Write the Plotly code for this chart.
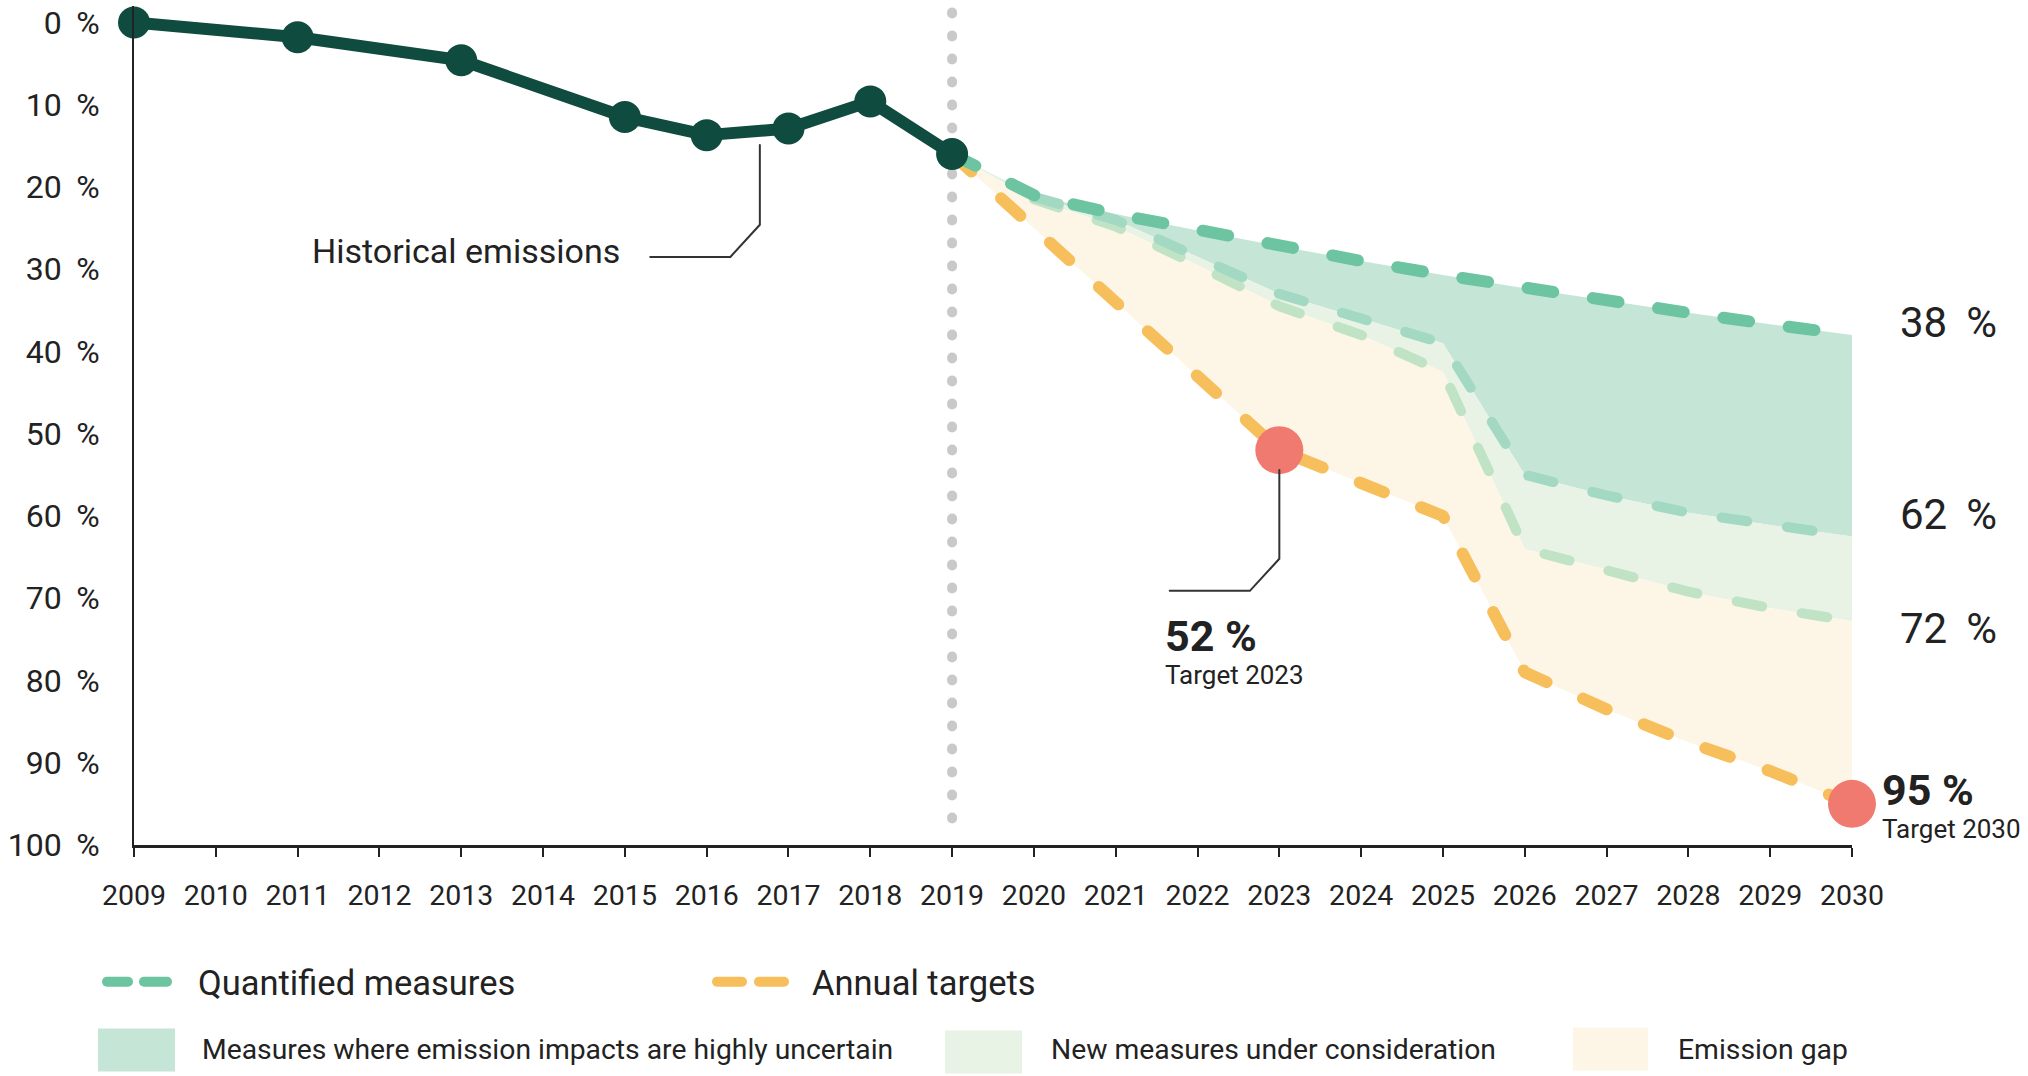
import plotly.graph_objects as go

# ---------------- data ----------------
hist_years = [2009, 2011, 2013, 2015, 2016, 2017, 2018, 2019]
hist_values = [0, 1.8, 4.6, 11.5, 13.7, 12.9, 9.6, 16.0]

proj_years = [2019, 2020, 2021, 2022, 2023, 2024, 2025, 2026, 2027, 2028, 2029, 2030]
quantified = [16, 21, 23.3, 25.3, 27.2, 29, 30.7, 32.3, 33.8, 35.3, 36.7, 38]
uncertain_lower = [16, 21.2, 24, 28.5, 33, 36, 39, 55, 57.5, 59.6, 61.1, 62.5]
new_measures_lower = [16, 21.5, 24.8, 29.5, 34.5, 38, 42.5, 64, 66.5, 69.2, 71.2, 72.8]
annual_targets = [16, 25, 34, 43, 52, 56, 60, 79, 83.5, 87.5, 91, 95]

target_years = [2023, 2030]
target_values = [52, 95]
target_labels = ["52 %", "95 %"]
target_subtitles = ["Target 2023", "Target 2030"]

SP = "\u00a0\u2009"  # slightly wider gap before %, as in the original typeface
y_tickvals = [0, 10, 20, 30, 40, 50, 60, 70, 80, 90, 100]
y_ticktext = [f"{v}{SP}%" for v in y_tickvals]
x_tickvals = list(range(2009, 2031))

end_labels = [f"38{SP}%", f"62{SP}%", f"72{SP}%"]
end_label_y = [36.5, 59.8, 73.7]

legend_lines = ["Quantified measures", "Annual targets"]
legend_areas = ["Measures where emission impacts are highly uncertain",
                "New measures under consideration", "Emission gap"]

# ---------------- styles ----------------
FONT = "Roboto, 'Open Sans', sans-serif"
C_HIST = "#0f4b3e"
C_QUANT = "#6cc4a0"
C_UNC = "#a3d8c3"
C_NEW = "#c0e3c6"
C_TARGET = "#f7bf5b"
C_RED = "#f07a70"
F_UNC = "#c5e6d7"
F_NEW = "#e8f3e6"
F_GAP = "#fdf6e6"
TXT = "#222222"

W, H = 2028, 1076
L, R, T, B = 134, 176, 4, 231
PW, PH = W - L - R, H - T - B


def px_x(p):
    return (p - L) / PW


def px_y(p):
    return (T + PH - p) / PH


fig = go.Figure()

# fills (no lines)
fig.add_trace(go.Scatter(x=proj_years, y=quantified, mode="lines", line=dict(width=0),
                         hoverinfo="skip", showlegend=False))
fig.add_trace(go.Scatter(x=proj_years, y=uncertain_lower, mode="lines", line=dict(width=0),
                         fill="tonexty", fillcolor=F_UNC, hoverinfo="skip", showlegend=False))
fig.add_trace(go.Scatter(x=proj_years, y=new_measures_lower, mode="lines", line=dict(width=0),
                         fill="tonexty", fillcolor=F_NEW, hoverinfo="skip", showlegend=False))
fig.add_trace(go.Scatter(x=proj_years, y=annual_targets, mode="lines", line=dict(width=0),
                         fill="tonexty", fillcolor=F_GAP, hoverinfo="skip", showlegend=False))

# dotted vertical line at 2019
fig.add_trace(go.Scatter(x=[2019, 2019], y=[-1.2, 99], mode="lines",
                         line=dict(color="#c9c9c9", width=10, dash="1px,22px"),
                         hoverinfo="skip", showlegend=False))

# dashed projection lines
fig.add_trace(go.Scatter(x=proj_years[1:], y=new_measures_lower[1:], mode="lines",
                         line=dict(color=C_NEW, width=10, dash="26px,40px"),
                         showlegend=False))
fig.add_trace(go.Scatter(x=proj_years[1:], y=uncertain_lower[1:], mode="lines",
                         line=dict(color=C_UNC, width=10, dash="26px,40px"),
                         showlegend=False))
fig.add_trace(go.Scatter(x=proj_years, y=annual_targets, mode="lines",
                         line=dict(color=C_TARGET, width=12, dash="26px,40px"),
                         showlegend=False))
fig.add_trace(go.Scatter(x=proj_years, y=quantified, mode="lines",
                         line=dict(color=C_QUANT, width=12, dash="26px,40px"),
                         showlegend=False))

# historical emissions
fig.add_trace(go.Scatter(x=hist_years, y=hist_values, mode="lines+markers",
                         line=dict(color=C_HIST, width=12),
                         marker=dict(color=C_HIST, size=32),
                         cliponaxis=False, showlegend=False))

# target dots
fig.add_trace(go.Scatter(x=target_years, y=target_values, mode="markers",
                         marker=dict(color=C_RED, size=48),
                         cliponaxis=False, showlegend=False))

shapes = []
annotations = []

# leader lines
shapes.append(dict(type="path", xref="x", yref="y",
                   path="M 2016.65,14.9 L 2016.65,24.6 L 2016.29,28.5 L 2015.31,28.5",
                   line=dict(color="#333333", width=2)))
shapes.append(dict(type="path", xref="x", yref="y",
                   path="M 2023,54.4 L 2023,65.2 L 2022.64,69.1 L 2021.66,69.1",
                   line=dict(color="#333333", width=2)))

annotations.append(dict(x=2014.97, y=27.8, xref="x", yref="y", text="Historical emissions",
                        showarrow=False, xanchor="right", yanchor="middle",
                        font=dict(size=34, color=TXT, family=FONT)))


def target_text(lab, sub):
    return (f"<span style='font-size:43px'><b>{lab}</b></span><br>"
            f"<span style='font-size:26px'>{sub}</span>")


# target labels (one text block each: value + subtitle)
annotations.append(dict(x=2021.58, y=76.4, xref="x", yref="y",
                        text=target_text(target_labels[0], target_subtitles[0]),
                        showarrow=False, xanchor="left", yanchor="middle", align="left",
                        font=dict(size=25, color=TXT, family=FONT)))
annotations.append(dict(x=px_x(1880), y=95.1, xref="paper", yref="y",
                        text=target_text(target_labels[1], target_subtitles[1]),
                        showarrow=False, xanchor="left", yanchor="middle", align="left",
                        font=dict(size=25, color=TXT, family=FONT)))

# end-of-line labels (paper x, data y)
for lab, yv in zip(end_labels, end_label_y):
    annotations.append(dict(x=px_x(1898), y=yv, xref="paper", yref="y", text=lab,
                            showarrow=False, xanchor="left", yanchor="middle",
                            font=dict(size=42, color=TXT, family=FONT)))

# custom legend
row1 = 982
for (a, b) in [(107, 128), (144, 167)]:
    shapes.append(dict(type="line", xref="paper", yref="paper", x0=px_x(a), x1=px_x(b),
                       y0=px_y(row1), y1=px_y(row1), line=dict(color=C_QUANT, width=10)))
for (a, b) in [(717, 742), (759, 784)]:
    shapes.append(dict(type="line", xref="paper", yref="paper", x0=px_x(a), x1=px_x(b),
                       y0=px_y(row1), y1=px_y(row1), line=dict(color=C_TARGET, width=10)))
annotations.append(dict(x=px_x(196), y=px_y(983), xref="paper", yref="paper",
                        text=legend_lines[0], showarrow=False, xanchor="left", yanchor="middle",
                        font=dict(size=34.5, color=TXT, family=FONT)))
annotations.append(dict(x=px_x(810), y=px_y(983), xref="paper", yref="paper",
                        text=legend_lines[1], showarrow=False, xanchor="left", yanchor="middle",
                        font=dict(size=34.5, color=TXT, family=FONT)))

area_boxes = [(98, 175, 1029, 1072), (945, 1022, 1031, 1074), (1573, 1648, 1028, 1071)]
area_colors = [F_UNC, F_NEW, F_GAP]
area_text_x = [200, 1049, 1676]
for (x0, x1, y0, y1), col, tx, lab in zip(area_boxes, area_colors, area_text_x, legend_areas):
    shapes.append(dict(type="rect", xref="paper", yref="paper", x0=px_x(x0), x1=px_x(x1),
                       y0=px_y(y1), y1=px_y(y0), fillcolor=col, line=dict(width=0)))
    annotations.append(dict(x=px_x(tx), y=px_y(1050), xref="paper", yref="paper", text=lab,
                            showarrow=False, xanchor="left", yanchor="middle",
                            font=dict(size=28.3, color=TXT, family=FONT)))

fig.update_layout(
    width=W, height=H,
    margin=dict(l=L, r=R, t=T, b=B),
    paper_bgcolor="white", plot_bgcolor="white",
    font=dict(family=FONT, color=TXT),
    shapes=shapes, annotations=annotations,
    showlegend=False,
    xaxis=dict(range=[2009, 2030], tickvals=x_tickvals, showgrid=False, zeroline=False,
               showline=True, linecolor="#222222", linewidth=3,
               ticks="outside", ticklen=9, tickwidth=2, tickcolor="#222222",
               ticklabelstandoff=14,
               tickfont=dict(size=28.5, color=TXT, family=FONT)),
    yaxis=dict(range=[100, -2], tickvals=y_tickvals, ticktext=y_ticktext,
               showgrid=False, zeroline=False, showline=True, linecolor="#222222",
               linewidth=2, ticks="", ticklabelstandoff=26,
               tickfont=dict(size=32, color=TXT, family=FONT)),
)

post = ("document.body.style.margin='0';"
        "var s=document.createElement('style');"
        "s.innerHTML='.scatterlayer .js-line{stroke-linecap:round;stroke-linejoin:round}"
        " .shapelayer path{stroke-linecap:round}';"
        "document.head.appendChild(s);")

fig.write_html("out.html", post_script=post, config={"displayModeBar": False})
